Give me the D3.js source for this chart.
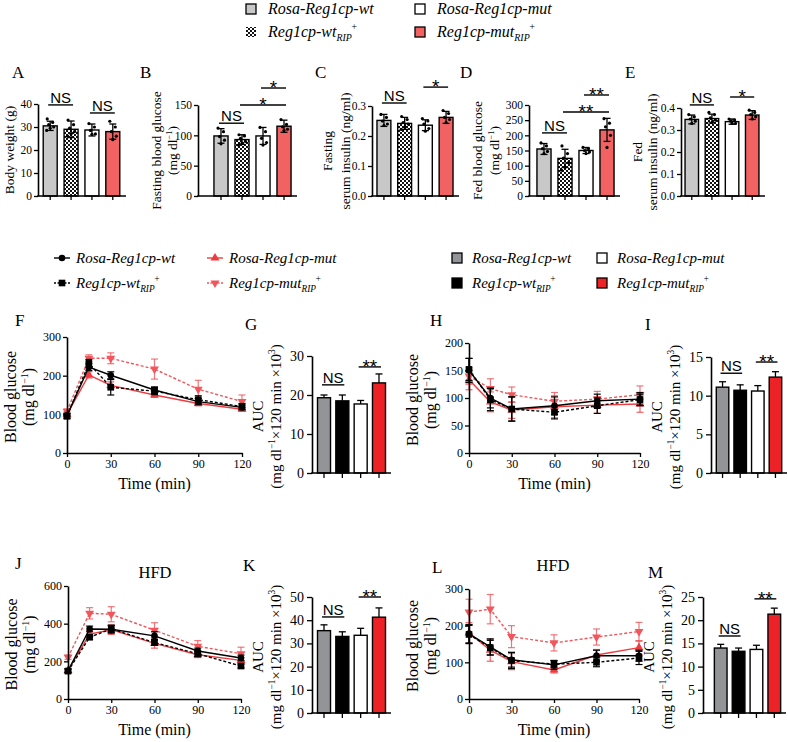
<!DOCTYPE html>
<html>
<head>
<meta charset="utf-8">
<script src="https://cdn.jsdelivr.net/npm/d3@7/dist/d3.min.js"></script>
<style>
  body { margin:0; background:#fff; }
  text { font-family: "Liberation Serif", "Times New Roman", serif; fill:#000; }
</style>
</head>
<body>
<svg id="fig" width="788" height="742" xmlns="http://www.w3.org/2000/svg"></svg>
<script>
// ================= DATA =================
const groupNames = ["Rosa-Reg1cp-wt", "Reg1cp-wt", "Rosa-Reg1cp-mut", "Reg1cp-mut"];
const groupRip = [false, true, false, true];
const timeMin = [0, 15, 30, 60, 90, 120];
const timeTicks = [0, 30, 60, 90, 120];

// A  body weight (g)
const weightMean = [30.5, 29.0, 28.7, 28.0];
const weightSD = [2.0, 3.6, 2.6, 3.3];
const weightDots = [[33.5, 32, 31, 30, 29.5, 28.5], [33, 31, 29.5, 28, 27, 26], [31.5, 30, 28.5, 27, 26.8], [32.5, 30, 28, 26, 24.5]];
const weightTicks = [0, 10, 20, 30, 40];
// B  fasting blood glucose
const fbgMean = [99, 93, 99, 115];
const fbgSD = [12, 8, 14, 10];
const fbgDots = [[112, 106, 98, 92, 86], [101, 99, 95, 90, 87, 84], [113, 106, 95, 88, 84], [126, 118, 114, 110, 108]];
const fbgTicks = [0, 50, 100, 150];
// C  fasting serum insulin
const fsiMean = [0.252, 0.242, 0.236, 0.262];
const fsiSD = [0.02, 0.02, 0.018, 0.02];
const fsiDots = [[0.272, 0.262, 0.25, 0.24, 0.235], [0.265, 0.255, 0.245, 0.24, 0.23, 0.222], [0.258, 0.25, 0.24, 0.225, 0.216], [0.285, 0.275, 0.262, 0.255, 0.245]];
const fsiTicks = [0, 0.1, 0.2, 0.3];
// D  fed blood glucose
const fedMean = [155, 124, 150, 218];
const fedSD = [18, 30, 10, 38];
const fedDots = [[175, 165, 156, 147, 140], [165, 140, 125, 110, 95, 85], [160, 156, 150, 145, 140], [255, 240, 228, 200, 160]];
const fedTicks = [0, 50, 100, 150, 200, 250, 300];
// E  fed serum insulin
const fedInsMean = [0.348, 0.352, 0.338, 0.368];
const fedInsSD = [0.02, 0.02, 0.012, 0.02];
const fedInsDots = [[0.37, 0.36, 0.35, 0.34, 0.33], [0.38, 0.37, 0.355, 0.345, 0.335], [0.35, 0.345, 0.34, 0.33, 0.33], [0.39, 0.38, 0.37, 0.36, 0.35]];
const fedInsTicks = [0, 0.1, 0.2, 0.3, 0.4];

// F  OGTT chow (mean, error)
const ogttMean = [[97, 222, 201, 163, 133, 118], [95, 232, 170, 160, 138, 120], [100, 202, 175, 150, 128, 113], [108, 245, 245, 217, 165, 133]];
const ogttErr = [[6, 9, 9, 8, 8, 6], [6, 10, 20, 9, 10, 8], [6, 8, 9, 6, 6, 5], [6, 9, 14, 26, 23, 17]];
const ogttTicks = [0, 100, 200, 300];
// G  AUC
const ogttAuc = [19.3, 18.5, 17.7, 23.1];
const ogttAucErr = [0.7, 1.5, 0.9, 2.3];
const ogttAucTicks = [0, 10, 20, 30];
// H  ITT chow
const ittMean = [[150, 100, 80, 86, 95, 98], [152, 97, 80, 74, 86, 97], [133, 93, 78, 84, 87, 89], [140, 117, 106, 94, 98, 106]];
const ittErr = [[22, 18, 22, 16, 12, 12], [20, 20, 22, 12, 14, 10], [18, 18, 15, 20, 15, 15], [15, 18, 14, 16, 14, 16]];
const ittTicks = [0, 50, 100, 150, 200];
// I  AUC
const ittAuc = [11.1, 10.7, 10.6, 12.4];
const ittAucErr = [0.7, 0.7, 0.7, 0.7];
const ittAucTicks = [0, 5, 10, 15];
// J  OGTT HFD
const hfdOgttMean = [[150, 372, 370, 335, 255, 218], [148, 328, 372, 300, 240, 175], [152, 345, 368, 295, 235, 205], [222, 455, 450, 365, 280, 240]];
const hfdOgttErr = [[10, 15, 20, 22, 15, 15], [10, 12, 20, 15, 15, 10], [10, 18, 25, 25, 15, 15], [12, 30, 40, 40, 30, 35]];
const hfdOgttTicks = [0, 200, 400, 600];
// K  AUC
const hfdOgttAuc = [35.5, 33.0, 33.5, 41.3];
const hfdOgttAucErr = [2.5, 2.0, 3.0, 4.0];
const hfdOgttAucTicks = [0, 10, 20, 30, 40, 50];
// L  ITT HFD
const hfdIttMean = [[178, 142, 107, 93, 118, 118], [176, 140, 105, 95, 100, 112], [180, 133, 102, 79, 120, 140], [237, 245, 170, 153, 169, 184]];
const hfdIttErr = [[25, 22, 20, 12, 15, 15], [25, 20, 22, 10, 12, 18], [28, 30, 22, 8, 15, 18], [35, 40, 30, 22, 22, 25]];
const hfdIttTicks = [0, 100, 200, 300];
// M  AUC
const hfdIttAuc = [14.0, 13.3, 13.7, 21.3];
const hfdIttAucErr = [0.8, 0.7, 0.9, 1.3];
const hfdIttAucTicks = [0, 5, 10, 15, 20, 25];

// ================= STYLE =================
const fillsTop = ["#c8c8c8", "url(#checker)", "#ffffff", "#f26262"];
const fillsAuc = ["#929497", "#000000", "#ffffff", "#ec2227"];
const lineColor = ["#000000", "#000000", "#ef3b40", "#f0565b"];
const lineDash = [null, "3,2", null, "3,2"];
const lineSym = [d3.symbolCircle, d3.symbolSquare, d3.symbolTriangle, d3.symbolTriangle];
const lineSymSize = [34, 44, 34, 34];
const lineSymRot = [0, 0, 0, 180];
const SANS = "'Liberation Sans', Arial, sans-serif";

const svg = d3.select("#fig");
svg.append("rect").attr("width", 788).attr("height", 742).attr("fill", "#fff");
const defs = svg.append("defs");
const pat = defs.append("pattern").attr("id", "checker").attr("width", 4).attr("height", 4).attr("patternUnits", "userSpaceOnUse");
pat.append("rect").attr("width", 4).attr("height", 4).attr("fill", "#fff");
pat.append("rect").attr("width", 2).attr("height", 2).attr("fill", "#111");
pat.append("rect").attr("x", 2).attr("y", 2).attr("width", 2).attr("height", 2).attr("fill", "#111");

// rich text helper: parts = [[text, kind]] kind: "", "sup", "sub"
function rich(t, parts, size) {
  let shift = 0;
  parts.forEach(([s, k, dx]) => {
    const target = k === "sup" ? -size * 0.42 : k === "sub" ? size * 0.28 : 0;
    const ts = t.append("tspan").text(s).attr("dy", target - shift);
    if (dx) ts.attr("dx", dx);
    if (k) ts.attr("font-size", size * 0.62);
    shift = target;
  });
}
function rotLabel(g, xc, yc, size, parts) {
  const t = g.append("text").attr("text-anchor", "middle").attr("font-size", size)
    .attr("transform", `translate(${xc + size * 0.33},${yc}) rotate(-90)`);
  rich(t, parts, size);
  return t;
}
function groupLabel(t, i, size) {
  t.attr("font-style", "italic").attr("font-size", size);
  if (groupRip[i]) rich(t, [[groupNames[i], ""], ["RIP", "sub"], ["+", "sup", -1]], size);
  else t.text(groupNames[i]);
}
function styleAxis(a, fs) {
  a.select(".domain").attr("stroke-width", 1.6);
  a.selectAll(".tick line").attr("stroke-width", 1.3);
  a.selectAll(".tick text").attr("font-size", fs);
}
function panelLabel(x, y, s) {
  svg.append("text").attr("x", x).attr("y", y).attr("font-size", 17).text(s);
}
function bracket(g, x, y, i, j, level, label) {
  const x1 = x(i) + x.bandwidth() / 2 - 2, x2 = x(j) + x.bandwidth() / 2 + 2, yy = y(level);
  g.append("line").attr("x1", x1).attr("x2", x2).attr("y1", yy).attr("y2", yy).attr("stroke", "#000").attr("stroke-width", 1.4);
  const isStar = label.indexOf("*") >= 0;
  g.append("text").attr("x", (x1 + x2) / 2).attr("y", isStar ? yy + 6 : yy - 2)
    .attr("text-anchor", "middle").style("font-family", SANS)
    .attr("font-size", isStar ? 19 : 15).text(label);
}

// ================= BAR PANELS A-E =================
function barPanel(o) {
  const g = svg.append("g");
  const x = d3.scaleBand().domain(d3.range(4)).range(o.band).paddingInner(0.33).paddingOuter(0.25);
  const y = d3.scaleLinear().domain([0, o.ticks[o.ticks.length - 1]]).range([o.base, o.top]);
  g.selectAll("rect.bar").data(o.mean).join("rect").attr("class", "bar")
    .attr("x", (d, i) => x(i)).attr("width", x.bandwidth())
    .attr("y", d => y(d)).attr("height", d => y(0) - y(d))
    .attr("fill", (d, i) => fillsTop[i]).attr("stroke", "#000").attr("stroke-width", 1.4);
  o.mean.forEach((m, i) => {
    const cx = x(i) + x.bandwidth() / 2;
    g.append("line").attr("x1", cx).attr("x2", cx).attr("y1", y(m - o.sd[i])).attr("y2", y(m + o.sd[i])).attr("stroke", "#000").attr("stroke-width", 1.3);
    [m - o.sd[i], m + o.sd[i]].forEach(v => g.append("line").attr("x1", cx - 3.5).attr("x2", cx + 3.5).attr("y1", y(v)).attr("y2", y(v)).attr("stroke", "#000").attr("stroke-width", 1.3));
    const jit = [-3, 2.5, -1.5, 3.5, 0, -3.5];
    o.dots[i].forEach((v, k) => g.append("circle").attr("cx", cx + jit[k % jit.length]).attr("cy", y(v)).attr("r", 1.6).attr("fill", "#000"));
  });
  const ya = g.append("g").attr("transform", `translate(${o.axisX},0)`)
    .call(d3.axisLeft(y).tickValues(o.ticks).tickFormat(o.fmt).tickSize(4).tickSizeOuter(0).tickPadding(2));
  styleAxis(ya, 11.5);
  g.append("line").attr("x1", o.axisX - 0.8).attr("x2", o.axisEnd).attr("y1", y(0)).attr("y2", y(0)).attr("stroke", "#000").attr("stroke-width", 1.6);
  o.mean.forEach((m, i) => {
    const cx = x(i) + x.bandwidth() / 2;
    g.append("line").attr("x1", cx).attr("x2", cx).attr("y1", y(0)).attr("y2", y(0) + 4).attr("stroke", "#000").attr("stroke-width", 1.3);
  });
  const yc = (o.base + o.top) / 2;
  o.titles.forEach((tt, k) => rotLabel(g, tt[0], yc, 13.5, tt[1]));
  o.brackets.forEach(b => bracket(g, x, y, b[0], b[1], b[2], b[3]));
}

const fmtInt = d3.format("d"), fmt1 = d3.format(".1f");
barPanel({ mean: weightMean, sd: weightSD, dots: weightDots, ticks: weightTicks, fmt: fmtInt,
  band: [38, 125], axisX: 38, axisEnd: 126, base: 196, top: 104,
  titles: [[10, [["Body weight (g)", ""]]]],
  brackets: [[0, 1, 39.6, "NS"], [2, 3, 36.1, "NS"]] });
barPanel({ mean: fbgMean, sd: fbgSD, dots: fbgDots, ticks: fbgTicks, fmt: fmtInt,
  band: [208.7, 296.3], axisX: 198, axisEnd: 297, base: 196, top: 105,
  titles: [[157, [["Fasting blood glucose", ""]]], [173, [["(mg dl", ""], ["−1", "sup"], [")", ""]]]],
  brackets: [[0, 1, 120, "NS"], [1, 3, 150, "*"], [2, 3, 178, "*"]] });
barPanel({ mean: fsiMean, sd: fsiSD, dots: fsiDots, ticks: fsiTicks, fmt: fmt1,
  band: [371.8, 458.2], axisX: 372, axisEnd: 459, base: 196, top: 106,
  titles: [[328, [["Fasting", ""]]], [346, [["serum insulin (ng/ml)", ""]]]],
  brackets: [[0, 1, 0.31, "NS"], [2, 3, 0.363, "*"]] });
barPanel({ mean: fedMean, sd: fedSD, dots: fedDots, ticks: fedTicks, fmt: fmtInt,
  band: [531.7, 619.3], axisX: 529, axisEnd: 620, base: 196, top: 105,
  titles: [[478, [["Fed blood glucose", ""]]], [495, [["(mg dl", ""], ["−1", "sup"], [")", ""]]]],
  brackets: [[0, 1, 208, "NS"], [1, 3, 277, "**"], [2, 3, 333, "**"]] });
barPanel({ mean: fedInsMean, sd: fedInsSD, dots: fedInsDots, ticks: fedInsTicks, fmt: fmt1,
  band: [680, 764], axisX: 681, axisEnd: 765, base: 196, top: 108,
  titles: [[638, [["Fed", ""]]], [653, [["serum insulin (ng/ml)", ""]]]],
  brackets: [[0, 1, 0.414, "NS"], [2, 3, 0.45, "*"]] });

// ================= LINE PANELS =================
function linePanel(o) {
  const g = svg.append("g");
  const x = d3.scaleLinear().domain([0, 120]).range([o.x0, o.x1]);
  const y = d3.scaleLinear().domain([0, o.ticks[o.ticks.length - 1]]).range([o.base, o.top]);
  [3, 2, 1, 0].forEach(k => {
    const col = lineColor[k];
    const pts = timeMin.map((t, i) => ({ t, v: o.mean[k][i], e: o.err[k][i] }));
    pts.forEach(p => {
      const cx = x(p.t);
      g.append("line").attr("x1", cx).attr("x2", cx).attr("y1", y(p.v - p.e)).attr("y2", y(p.v + p.e)).attr("stroke", col).attr("stroke-width", 1.2).attr("opacity", k > 1 ? 0.8 : 1);
      [p.v - p.e, p.v + p.e].forEach(v => g.append("line").attr("x1", cx - 3.5).attr("x2", cx + 3.5).attr("y1", y(v)).attr("y2", y(v)).attr("stroke", col).attr("stroke-width", 1.2).attr("opacity", k > 1 ? 0.8 : 1));
    });
    g.append("path").datum(pts).attr("fill", "none").attr("stroke", col).attr("stroke-width", 1.4)
      .attr("stroke-dasharray", lineDash[k]).attr("d", d3.line().x(d => x(d.t)).y(d => y(d.v)));
    g.selectAll(null).data(pts).join("path")
      .attr("transform", d => `translate(${x(d.t)},${y(d.v)}) rotate(${lineSymRot[k]})`)
      .attr("d", d3.symbol().type(lineSym[k]).size(lineSymSize[k])).attr("fill", col);
  });
  const ya = g.append("g").attr("transform", `translate(${x(0)},0)`)
    .call(d3.axisLeft(y).tickValues(o.ticks).tickSize(4).tickSizeOuter(0).tickPadding(2));
  styleAxis(ya, 12);
  const xa = g.append("g").attr("transform", `translate(0,${y(0)})`)
    .call(d3.axisBottom(x).tickValues(timeTicks).tickSize(4).tickSizeOuter(0).tickPadding(2));
  styleAxis(xa, 12);
  const yc = (o.base + o.top) / 2 + 2;
  rotLabel(g, o.x0 - 56, yc, 16, [["Blood glucose", ""]]);
  rotLabel(g, o.x0 - 38, yc, 16, [["(mg dl", ""], ["−1", "sup"], [")", ""]]);
  g.append("text").attr("x", (o.x0 + o.x1) / 2).attr("y", o.timeY).attr("text-anchor", "middle").attr("font-size", 16).text("Time (min)");
  if (o.title) g.append("text").attr("x", o.title[0]).attr("y", o.title[1]).attr("text-anchor", "middle").attr("font-size", 16.5).text("HFD");
}

// ================= AUC PANELS =================
function aucPanel(o) {
  const g = svg.append("g");
  const x = d3.scaleBand().domain(d3.range(4)).range(o.band).paddingInner(0.29).paddingOuter(0.3);
  const y = d3.scaleLinear().domain([0, o.ticks[o.ticks.length - 1]]).range([o.base, o.top]);
  o.mean.forEach((m, i) => {
    const cx = x(i) + x.bandwidth() / 2;
    g.append("line").attr("x1", cx).attr("x2", cx).attr("y1", y(m)).attr("y2", y(m + o.err[i])).attr("stroke", "#000").attr("stroke-width", 1.3);
    g.append("line").attr("x1", cx - 3.5).attr("x2", cx + 3.5).attr("y1", y(m + o.err[i])).attr("y2", y(m + o.err[i])).attr("stroke", "#000").attr("stroke-width", 1.3);
  });
  g.selectAll("rect.bar").data(o.mean).join("rect").attr("class", "bar")
    .attr("x", (d, i) => x(i)).attr("width", x.bandwidth())
    .attr("y", d => y(d)).attr("height", d => y(0) - y(d))
    .attr("fill", (d, i) => fillsAuc[i]).attr("stroke", "#000").attr("stroke-width", 1.4);
  const ya = g.append("g").attr("transform", `translate(${o.axisX},0)`)
    .call(d3.axisLeft(y).tickValues(o.ticks).tickSize(5).tickSizeOuter(0).tickPadding(3));
  styleAxis(ya, 14);
  g.append("line").attr("x1", o.axisX - 0.8).attr("x2", o.band[1]).attr("y1", y(0)).attr("y2", y(0)).attr("stroke", "#000").attr("stroke-width", 1.6);
  o.mean.forEach((m, i) => {
    const cx = x(i) + x.bandwidth() / 2;
    g.append("line").attr("x1", cx).attr("x2", cx).attr("y1", y(0)).attr("y2", y(0) + 5).attr("stroke", "#000").attr("stroke-width", 1.3);
  });
  const yc = (o.base + o.top) / 2 + 2;
  rotLabel(g, o.axisX - 54, yc, 15, [["AUC", ""]]);
  rotLabel(g, o.axisX - 36, yc, 15, [["(mg dl", ""], ["−1", "sup"], ["×120 min ×10", ""], ["3", "sup"], [")", ""]]);
  bracket(g, x, y, 0, 1, o.ns, "NS");
  bracket(g, x, y, 2, 3, o.star, "**");
}

linePanel({ mean: ogttMean, err: ogttErr, ticks: ogttTicks, x0: 67, x1: 242, base: 453, top: 337, timeY: 489 });
aucPanel({ mean: ogttAuc, err: ogttAucErr, ticks: ogttAucTicks, band: [312, 391], axisX: 312, base: 473, top: 356, ns: 22.6, star: 27.2 });
linePanel({ mean: ittMean, err: ittErr, ticks: ittTicks, x0: 469, x1: 640, base: 453, top: 343, timeY: 489 });
aucPanel({ mean: ittAuc, err: ittAucErr, ticks: ittAucTicks, band: [711, 787], axisX: 711, base: 473, top: 357, ns: 12.9, star: 14.35 });
linePanel({ mean: hfdOgttMean, err: hfdOgttErr, ticks: hfdOgttTicks, x0: 68, x1: 241, base: 699, top: 586, title: [155, 578], timeY: 735 });
aucPanel({ mean: hfdOgttAuc, err: hfdOgttAucErr, ticks: hfdOgttAucTicks, band: [312, 391], axisX: 312, base: 713, top: 597, ns: 41.4, star: 50 });
linePanel({ mean: hfdIttMean, err: hfdIttErr, ticks: hfdIttTicks, x0: 469, x1: 639, base: 699, top: 589, title: [553, 571], timeY: 735 });
aucPanel({ mean: hfdIttAuc, err: hfdIttAucErr, ticks: hfdIttAucTicks, band: [709, 786], axisX: 703, base: 713, top: 597, ns: 16.6, star: 24.6 });

// ================= PANEL LABELS =================
[["A", 12, 78], ["B", 140, 78], ["C", 315, 78], ["D", 460, 78], ["E", 625, 78],
 ["F", 15, 326], ["G", 245, 330], ["H", 430, 326], ["I", 645, 330],
 ["J", 15, 569], ["K", 243, 571], ["L", 432, 573], ["M", 648, 578]].forEach(d => panelLabel(d[1], d[2], d[0]));

// ================= LEGENDS =================
const topLeg = svg.append("g");
[[246, 9], [246, 32], [415, 9], [415, 32]].forEach((p, i) => {
  topLeg.append("rect").attr("x", p[0]).attr("y", p[1] - 5).attr("width", 10).attr("height", 10)
    .attr("fill", fillsTop[i]).attr("stroke", i === 1 ? "none" : "#000").attr("stroke-width", 1.3);
  groupLabel(topLeg.append("text").attr("x", p[0] + 22).attr("y", p[1] + 5), i, 16);
});
const lineLeg = svg.append("g");
[[62, 258], [62, 283], [215, 258], [215, 283]].forEach((p, i) => {
  lineLeg.append("line").attr("x1", p[0] - 8).attr("x2", p[0] + 8).attr("y1", p[1]).attr("y2", p[1])
    .attr("stroke", lineColor[i]).attr("stroke-width", 1.4).attr("stroke-dasharray", lineDash[i] ? "2,1.5" : null);
  lineLeg.append("path").attr("transform", `translate(${p[0]},${p[1]}) rotate(${lineSymRot[i]})`)
    .attr("d", d3.symbol().type(lineSym[i]).size(lineSymSize[i])).attr("fill", lineColor[i]);
  groupLabel(lineLeg.append("text").attr("x", p[0] + 14).attr("y", p[1] + 5), i, 15);
});
const aucLeg = svg.append("g");
[[452, 258], [452, 283], [597, 258], [597, 283]].forEach((p, i) => {
  aucLeg.append("rect").attr("x", p[0]).attr("y", p[1] - 5).attr("width", 10).attr("height", 10)
    .attr("fill", fillsAuc[i]).attr("stroke", "#000").attr("stroke-width", 1.3);
  groupLabel(aucLeg.append("text").attr("x", p[0] + 20).attr("y", p[1] + 5), i, 15);
});
</script>
</body>
</html>
